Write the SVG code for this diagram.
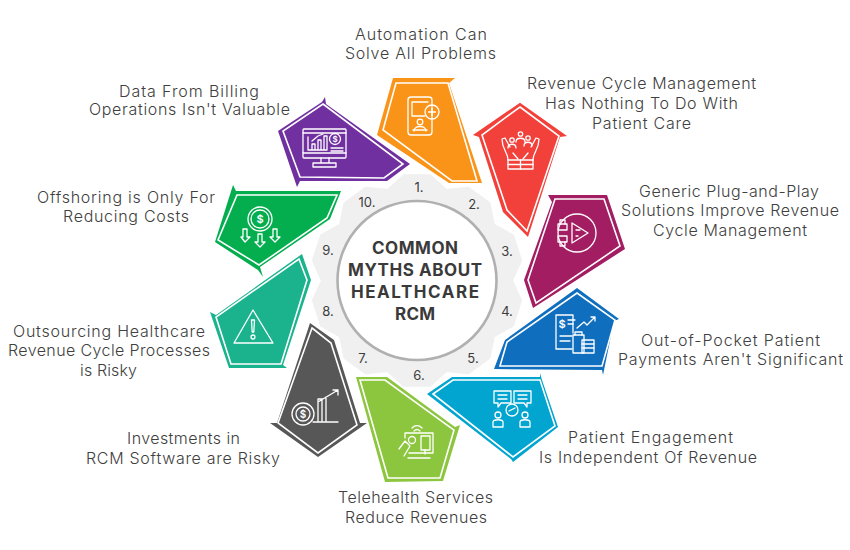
<svg xmlns="http://www.w3.org/2000/svg" width="850" height="550" viewBox="0 0 850 550">
<style>
.lb{font-family:"Inter","Liberation Sans",sans-serif;font-size:16px;font-weight:300;fill:#404040;text-anchor:middle}
.ttl{font-family:"Inter","Liberation Sans",sans-serif;font-size:17px;font-weight:700;fill:#3a3a3a;text-anchor:middle}
.num{font-family:"Inter","Liberation Sans",sans-serif;font-size:13px;font-weight:400;fill:#3d3d3d;text-anchor:middle}
.in{stroke:#fff;stroke-width:1.6;stroke-linejoin:miter}
.ic{fill:none;stroke:#fff;stroke-width:1.3;stroke-linejoin:round;stroke-linecap:round}
.sym{font-family:"Inter","Liberation Sans",sans-serif;font-weight:600;fill:#fff;text-anchor:middle}
</style>
<rect width="850" height="550" fill="#fff"/>
<g id="hub">
<polygon fill="#f0f0f0" stroke="#f0f0f0" stroke-width="4" stroke-linejoin="round" points="404.2,176.3 429.8,176.3 446,191.1 467.9,188.7 488.6,203.7 493,225.2 512.2,236.1 520.1,260.5 511,280.5 520.1,300.5 512.2,324.9 493,335.8 488.6,357.3 467.9,372.3 446,369.9 429.8,384.7 404.2,384.7 388,369.9 366.1,372.3 345.4,357.3 341,335.8 321.8,324.9 313.9,300.5 323,280.5 313.9,260.5 321.8,236.1 341,225.2 345.4,203.7 366.1,188.7 388,191.1"/>
<circle cx="417" cy="280.5" r="79.5" fill="#fff" stroke="#b0b0b0" stroke-width="2.6"/>
<text class="ttl" x="415" y="254" textLength="86" lengthAdjust="spacing">COMMON</text>
<text class="ttl" x="415" y="276" textLength="134" lengthAdjust="spacing">MYTHS ABOUT</text>
<text class="ttl" x="415" y="298" textLength="128" lengthAdjust="spacing">HEALTHCARE</text>
<text class="ttl" x="415" y="320" textLength="40" lengthAdjust="spacing">RCM</text>
<text class="num" x="419" y="192">1.</text>
<text class="num" x="474" y="209">2.</text>
<text class="num" x="507" y="256">3.</text>
<text class="num" x="507" y="316">4.</text>
<text class="num" x="473" y="363">5.</text>
<text class="num" x="419" y="380">6.</text>
<text class="num" x="363" y="363">7.</text>
<text class="num" x="328" y="316">8.</text>
<text class="num" x="328" y="255">9.</text>
<text class="num" x="367" y="207">10.</text>
</g>
<g id="node-1">
<polygon fill="#fa9419" points="393,78 455,78 449,83 482,183 449,183 377,135"/>
<polygon class="in" fill="#fa9419" points="396,83 448,83 477,181 452,181 383,130"/>
<g class="ic"><rect x="408" y="97" width="24" height="38" rx="3"/><path d="M412,102H428M412,102V116H425M413,130H427"/><circle cx="432" cy="112" r="7"/><path d="M432,108.500V115.500M428.500,112H435.500"/><circle cx="420" cy="122" r="2.800"/><path d="M414,131C414,125 426,125 426,131"/></g>
<text class="lb" x="421" y="39.500" textLength="132" lengthAdjust="spacing">Automation Can</text>
<text class="lb" x="420.500" y="58.500" textLength="151" lengthAdjust="spacing">Solve All Problems</text>
</g>
<g id="node-2">
<polygon fill="#f2403a" points="520,102.700 567,136 560,137 528,237 503,212 479,137 473,135"/>
<polygon class="in" fill="#f2403a" points="520,107 559,136 527,231 507,210 482,135"/>
<g class="ic"><rect x="508" y="160" width="25" height="9"/><path d="M520.500,160V169M508,164.500H533M508,160C508,152 502,150 502,139L505,138L510,147M533,160C533,152 539,150 539,139L536,138L531,147M513,153L518,159M528,153L523,159"/><circle cx="512" cy="140" r="2.200"/><circle cx="520.500" cy="134" r="2.200"/><circle cx="528" cy="138" r="2.200"/><path d="M508,148C508,143 516,143 516,148M516,142C516,137 525,137 525,142M524,146C524,141 532,141 532,146"/></g>
<text class="lb" x="641.500" y="89" textLength="229" lengthAdjust="spacing">Revenue Cycle Management</text>
<text class="lb" x="641.500" y="109" textLength="193" lengthAdjust="spacing">Has Nothing To Do With</text>
<text class="lb" x="641.500" y="129" textLength="99" lengthAdjust="spacing">Patient Care</text>
</g>
<g id="node-3">
<polygon fill="#a21d62" points="548,195 607,195 625,249 533,308 524,280 552,202"/>
<polygon class="in" fill="#a21d62" points="555,199 604,199 620,246 536,303 528,280"/>
<g class="ic"><circle cx="577" cy="233" r="19"/><polygon points="572,223 588,233 572,243"/><rect x="558" y="224" width="9" height="6"/><rect x="558" y="236" width="9" height="6"/><path d="M560,224V220H565V224M560,242V246H565V242M576,230H580M576,236H578"/></g>
<text class="lb" x="729" y="196.500" textLength="180" lengthAdjust="spacing">Generic Plug-and-Play</text>
<text class="lb" x="730" y="216" textLength="218" lengthAdjust="spacing">Solutions Improve Revenue</text>
<text class="lb" x="730" y="236" textLength="154" lengthAdjust="spacing">Cycle Management</text>
</g>
<g id="node-4">
<polygon fill="#0f6ebd" points="577,288 619,319 614,321 603,375 602,370 494,369 505,340"/>
<polygon class="in" fill="#0f6ebd" points="577,293 615,320 602,366 500,366 507,342"/>
<g class="ic"><path d="M573,333V315H556V349H572"/><path d="M568,320H575M568,324H573M560,336H572M560,341H570"/><path d="M577,328L584,322L587,325L595,317M595,317H591M595,317V321"/><rect x="573" y="335" width="11" height="18"/><rect x="582" y="340" width="12" height="13"/><path d="M582,344H594M582,348H594M575,335V332H582V335"/></g>
<text class="sym" x="562" y="328" font-size="11">$</text>
<text class="lb" x="730.500" y="345.500" textLength="179" lengthAdjust="spacing">Out-of-Pocket Patient</text>
<text class="lb" x="730.500" y="365" textLength="225" lengthAdjust="spacing">Payments Aren't Significant</text>
</g>
<g id="node-5">
<polygon fill="#02a5d0" points="427,394 452,377 540,377 540,373 542,380 558,427 513,462 511,459"/>
<polygon class="in" fill="#02a5d0" points="433,394 453,380 540,380 555,426 513,457"/>
<g class="ic"><path d="M494,391H511V403H501L498,407V403H494ZM514,391H531V403H527V407L524,403H514Z"/><path d="M498,395H507M498,399H507M518,395H527M518,399H527"/><circle cx="512" cy="410" r="6"/><path d="M509,411L515,408"/><circle cx="498" cy="415" r="3"/><circle cx="525" cy="415" r="3"/><path d="M493,427V422C493,419 503,419 503,422V427ZM520,427V422C520,419 530,419 530,422V427Z"/></g>
<text class="lb" x="650.500" y="443" textLength="165" lengthAdjust="spacing">Patient Engagement</text>
<text class="lb" x="648" y="463" textLength="218" lengthAdjust="spacing">Is Independent Of Revenue</text>
</g>
<g id="node-6">
<polygon fill="#8cc63f" points="356,377 387,377 455,427 460,425 443,481 385,482"/>
<polygon class="in" fill="#8cc63f" points="360,380 385,380 454,430 440,478 388,478"/>
<g class="ic"><path d="M412,428C415,425 419,425 422,428M414,431C416,429 418,429 420,431"/><path d="M405,438V433H433V453H409"/><circle cx="412" cy="440" r="3.500"/><rect x="421" y="436" width="9" height="14"/><path d="M425,450V454M408,458H430M399,449L405,441L410,446L404,456"/></g>
<text class="lb" x="415.500" y="503" textLength="155" lengthAdjust="spacing">Telehealth Services</text>
<text class="lb" x="416" y="523" textLength="142" lengthAdjust="spacing">Reduce Revenues</text>
</g>
<g id="node-7">
<polygon fill="#575757" points="310,323 334,340 360,423 367,423 318,457 270,423 277,423"/>
<polygon class="in" fill="#575757" points="312,328 331,343 357,425 318,453 278,423"/>
<g class="ic"><circle cx="303" cy="414" r="11"/><circle cx="303" cy="414" r="7"/><path d="M313,422H338M318,422V399H322V422M326,422V397M318,402L338,390M338,390H333M338,390V395"/></g>
<text class="sym" x="303" y="418" font-size="10">$</text>
<text class="lb" x="183.500" y="444" textLength="113" lengthAdjust="spacing">Investments in</text>
<text class="lb" x="183" y="464" textLength="194" lengthAdjust="spacing">RCM Software are Risky</text>
</g>
<g id="node-8">
<polygon fill="#1ab38d" points="302,254 311,280 283,365 287,368 229,368 210,312 216,315"/>
<polygon class="in" fill="#1ab38d" points="299,259 307,280 281,364 231,364 216,317"/>
<g class="ic"><path d="M253,310L273,343H234Z"/><path d="M251.500,320H254.500L253.800,332H252.200Z"/><circle cx="253" cy="337" r="2"/></g>
<text class="lb" x="109" y="336.500" textLength="192" lengthAdjust="spacing">Outsourcing Healthcare</text>
<text class="lb" x="109" y="356" textLength="202" lengthAdjust="spacing">Revenue Cycle Processes</text>
<text class="lb" x="108.500" y="376" textLength="57" lengthAdjust="spacing">is Risky</text>
</g>
<g id="node-9">
<polygon fill="#04ae4f" points="233,185 236,191 341,191 330,219 260,267 263,277 258,270 215,242"/>
<polygon class="in" fill="#04ae4f" points="237,195 337,195 327,218 259,265 218,240"/>
<g class="ic"><circle cx="260" cy="219" r="12"/><circle cx="260" cy="219" r="9"/><path d="M243,229H247V237H250L245,242L241,237H243ZM258,234H262V242H265L260,247L255,242H258ZM273,229H277V237H280L275,242L270,237H273Z"/></g>
<text class="sym" x="260" y="223" font-size="11">$</text>
<text class="lb" x="126" y="202.500" textLength="178" lengthAdjust="spacing">Offshoring is Only For</text>
<text class="lb" x="126" y="222" textLength="126" lengthAdjust="spacing">Reducing Costs</text>
</g>
<g id="node-10">
<polygon fill="#7030a0" points="325,97 326,104 410,164 387,181 300,181 297,187 278,131 322,102"/>
<polygon class="in" fill="#7030a0" points="323,104 403,164 384,178 300,177 283,131"/>
<g class="ic"><rect x="303" y="129" width="43" height="29" rx="1"/><path d="M303,133H346M303,153H346M321,158V163M329,158V163M313,163H336V167H313Z"/><path d="M308,150V137M308,150H327M312,150V144H315V150M318,150V140H321V150M324,150V136H327V150M312,141L318,136L323,134"/><circle cx="335" cy="139" r="5.500"/><path d="M331,148H343M331,151H343"/></g>
<text class="sym" x="335" y="142" font-size="8">$</text>
<text class="lb" x="189" y="96.500" textLength="140" lengthAdjust="spacing">Data From Billing</text>
<text class="lb" x="189.500" y="115" textLength="201" lengthAdjust="spacing">Operations Isn't Valuable</text>
</g>
</svg>
